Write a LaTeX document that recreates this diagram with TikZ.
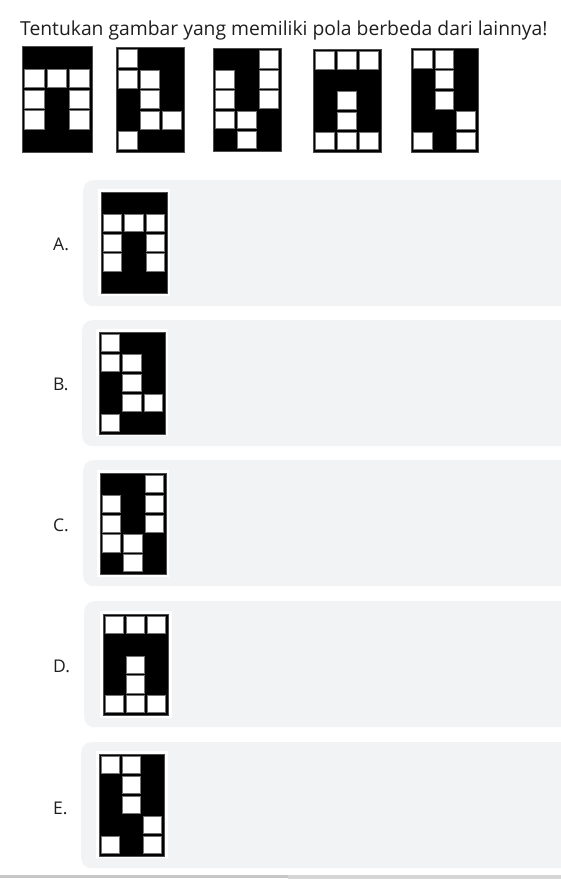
\documentclass[tikz,border=0pt]{standalone}
\usepackage{fontspec}
\setmainfont{Open Sans}
\usetikzlibrary{positioning}

\definecolor{panelgray}{HTML}{F2F3F5}
\definecolor{teks}{HTML}{1E1E1E}

% white cells of each pattern, as row/column
\def\patA{2/1,2/2,2/3,3/1,3/3,4/1,4/3}
\def\patB{1/1,2/1,2/2,3/2,4/2,4/3,5/1}
\def\patC{1/3,2/1,2/3,3/1,3/3,4/1,4/2,5/2}
\def\patD{1/1,1/2,1/3,3/2,4/2,5/1,5/2,5/3}
\def\patE{1/1,1/2,2/2,3/2,4/3,5/1,5/3}

% name, x, y, width, height, white cells
\def\polagrid#1#2#3#4#5#6{%
    \node[grid, minimum width=#4, minimum height=#5] (#1) at (#2,#3) {};
    \foreach \r/\c in #6
        \node[cell, minimum width={(#4-2)/3-3}, minimum height={(#5-2)/5-2.6}]
            (#1-\r-\c) at ({#2+1+(\c-0.5)*(#4-2)/3},{#3+1+(\r-0.5)*(#5-2)/5}) {};
}

\begin{document}
\begin{tikzpicture}[x=1pt,y=-1pt]
    \tikzstyle{grid}=[rectangle,fill=black,draw=black!70,line width=1pt,anchor=north west,inner sep=0pt,outer sep=0pt]
    \tikzstyle{cell}=[rectangle,fill=white,draw=black!55,line width=0.8pt,inner sep=0pt,outer sep=0pt]
    \tikzstyle{frame}=[rectangle,fill=white,anchor=north west,inner sep=0pt,outer sep=0pt]
    \tikzstyle{panel}=[rectangle,fill=panelgray,rounded corners=10pt,anchor=north west,inner sep=0pt]
    \tikzstyle{opsi}=[anchor=base west,inner sep=0pt,text=teks,font=\fontsize{17.5}{20}\selectfont]

    \useasboundingbox (0,0) rectangle (561,879);
    \clip (0,0) rectangle (561,879);

    % Question
    \node[anchor=base west,inner sep=0pt,text=teks,font=\fontsize{19.3}{22}\selectfont]
        (judul) at (20,35) {Tentukan gambar yang memiliki pola berbeda dari lainnya!};

    % Draw the five patterns of the question
    \polagrid{T1}{22}{46}{70}{106}{\patA}
    \polagrid{T2}{116}{47}{68}{105}{\patB}
    \polagrid{T3}{213}{48}{68}{103}{\patC}
    \polagrid{T4}{313}{49}{68}{103}{\patD}
    \polagrid{T5}{411}{48}{67}{104}{\patE}

    % Answer panels
    \foreach \name / \x / \y in {A/83/180,B/82/320,C/83/460,D/84/601,E/81/742}
        \node[panel, minimum width=500, minimum height=126] (panel\name) at (\x,\y) {};

    % Answer labels
    \node[opsi] (labA) at (53,250) {A.};
    \node[opsi] (labB) at (53,390) {B.};
    \node[opsi] (labC) at (53,531.5) {C.};
    \node[opsi] (labD) at (53,672.5) {D.};
    \node[opsi] (labE) at (53,814) {E.};

    % White frames round the answer pictures
    \foreach \name / \x / \y in {A/98/189,B/96/329,C/97/470,D/100/611,E/96/751}
        \node[frame, minimum width=72, minimum height=107] (frame\name) at (\x,\y) {};

    % Answer patterns
    \polagrid{A}{101}{192}{66}{101}{\patA}
    \polagrid{B}{99}{332}{66}{102}{\patB}
    \polagrid{C}{100}{473}{66}{101}{\patC}
    \polagrid{D}{103}{614}{65}{101}{\patD}
    \polagrid{E}{99}{754}{65}{102}{\patE}

    % bottom edge
    \fill[black!22] (0,875) rectangle (288,877.5);
    \fill[black!16] (288,875) rectangle (561,879);
\end{tikzpicture}
\end{document}
